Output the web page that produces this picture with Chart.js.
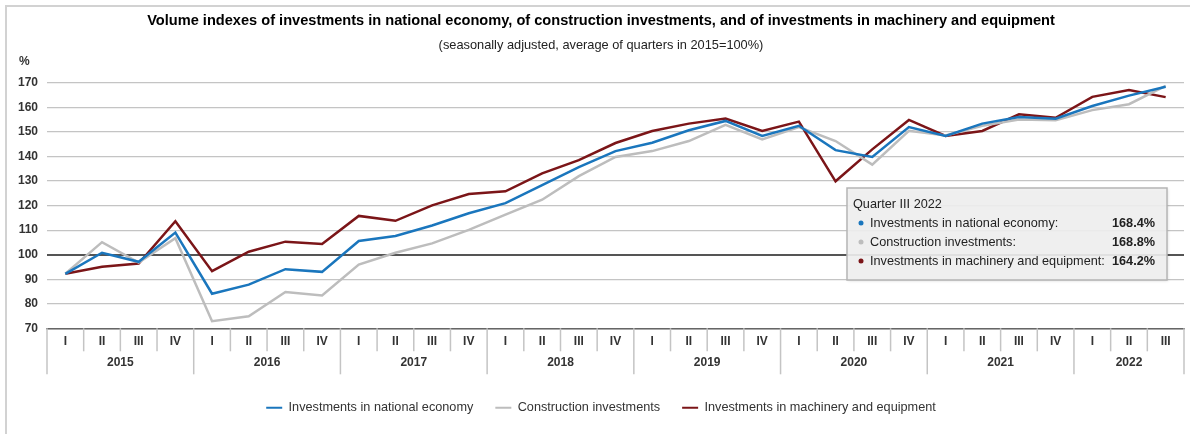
<!DOCTYPE html>
<html lang="en">
<head>
  <meta charset="UTF-8" />
  <title>Volume indexes of investments</title>
  <style>
    html, body { margin: 0; padding: 0; background: #fff; }
    #wrap { position: relative; width: 1190px; height: 434px; }
    #frame { position: absolute; left: 5px; top: 5px; right: 0; bottom: 0; border-left: 2px solid #d2d2d2; border-top: 2px solid #d2d2d2; pointer-events: none; }
    canvas { display: block; }
  </style>
</head>
<body>
<div id="wrap">
  <canvas id="grafico" width="1190" height="434"></canvas>
  <div id="frame"></div>
</div>

<script src="https://cdn.jsdelivr.net/npm/chart.js"></script>
<script>
  // Quarter labels and the year each quarter belongs to
  const quarters = ['I','II','III','IV','I','II','III','IV','I','II','III','IV','I','II','III','IV',
                    'I','II','III','IV','I','II','III','IV','I','II','III','IV','I','II','III'];
  const years = ['2015','2015','2015','2015','2016','2016','2016','2016','2017','2017','2017','2017',
                 '2018','2018','2018','2018','2019','2019','2019','2019','2020','2020','2020','2020',
                 '2021','2021','2021','2021','2022','2022','2022'];

  // Series (2015 average = 100%)
  const national = [92.2, 100.8, 97.1, 109.0, 84.1, 87.8, 94.1, 93.0, 105.6, 107.6, 111.9, 116.9,
                    121.0, 128.3, 135.7, 142.2, 145.6, 150.7, 154.5, 148.4, 152.5, 142.6, 139.8, 152.0,
                    148.4, 153.4, 156.1, 155.4, 160.6, 164.8, 168.4];
  const construction = [92.2, 105.1, 96.8, 106.7, 72.9, 74.9, 84.8, 83.4, 96.0, 100.8, 104.6, 110.1,
                        116.3, 122.4, 132.0, 139.8, 142.2, 146.3, 152.9, 147.0, 152.0, 146.3, 136.7, 150.5,
                        148.6, 152.5, 155.1, 154.8, 158.9, 161.3, 168.8];
  const machinery = [92.2, 95.1, 96.4, 113.6, 93.3, 101.2, 105.3, 104.4, 115.8, 113.8, 120.1, 124.7,
                     125.8, 133.1, 138.5, 145.5, 150.4, 153.4, 155.5, 150.4, 154.2, 129.9, 142.9, 154.9,
                     148.4, 150.4, 157.2, 155.8, 164.3, 167.1, 164.2];

  const seriesNames = ['Investments in national economy', 'Construction investments', 'Investments in machinery and equipment'];
  const seriesColors = ['#1a76bd', '#bdbdbd', '#7b1518'];
  const seriesData = [national, construction, machinery];

  const fonte = '"Liberation Sans", Arial, sans-serif';
  Chart.defaults.font.family = fonte;

  // Separators below the axis, year labels, "%" and the info box
  const extras = {
    id: 'extras',
    afterDraw(chart) {
      const { ctx, chartArea: a, scales: { x } } = chart;
      const w = x.getPixelForValue(1) - x.getPixelForValue(0);
      const x0 = x.getPixelForValue(0) - w / 2;
      ctx.save();

      ctx.font = 'bold 12px ' + fonte;
      ctx.fillStyle = '#333';
      ctx.textBaseline = 'middle';
      ctx.textAlign = 'left';
      ctx.fillText('%', 19, a.top - 21);

      // separators
      ctx.strokeStyle = '#c4c4c4';
      ctx.lineWidth = 1.5;
      for (let i = 0; i <= quarters.length; i++) {
        const px = x0 + i * w;
        const borda = i === 0 || i === quarters.length || years[i] !== years[i - 1];
        ctx.beginPath();
        ctx.moveTo(px, a.bottom);
        ctx.lineTo(px, a.bottom + (borda ? 46 : 23));
        ctx.stroke();
      }

      // year labels
      ctx.textAlign = 'center';
      let inicio = 0;
      for (let i = 1; i <= years.length; i++) {
        if (i === years.length || years[i] !== years[inicio]) {
          const cx = (x.getPixelForValue(inicio) + x.getPixelForValue(i - 1)) / 2;
          ctx.fillText(years[inicio], cx, a.bottom + 34);
          inicio = i;
        }
      }

      // info box for the last quarter
      const last = quarters.length - 1;
      const bx = 847, by = 188, bw = 320, bh = 92;
      ctx.shadowColor = 'rgba(0,0,0,0.15)';
      ctx.shadowBlur = 3;
      ctx.shadowOffsetX = 1;
      ctx.shadowOffsetY = 1;
      ctx.fillStyle = 'rgba(241,241,241,0.9)';
      ctx.fillRect(bx, by, bw, bh);
      ctx.shadowColor = 'transparent';
      ctx.strokeStyle = '#b5b5b5';
      ctx.lineWidth = 1.5;
      ctx.strokeRect(bx, by, bw, bh);

      ctx.textAlign = 'left';
      ctx.font = '12.7px ' + fonte;
      ctx.fillStyle = '#222';
      ctx.fillText('Quarter ' + quarters[last] + ' ' + years[last], bx + 6, by + 16);
      seriesNames.forEach((nome, k) => {
        const ry = by + 35 + k * 19;
        ctx.fillStyle = seriesColors[k];
        ctx.beginPath();
        ctx.arc(bx + 14, ry, 2.5, 0, Math.PI * 2);
        ctx.fill();
        ctx.fillStyle = '#222';
        ctx.font = '12.7px ' + fonte;
        ctx.textAlign = 'left';
        ctx.fillText(nome + ':', bx + 23, ry);
        ctx.font = 'bold 12.7px ' + fonte;
        ctx.textAlign = 'right';
        ctx.fillText(seriesData[k][last].toFixed(1) + '%', bx + 308, ry);
      });

      ctx.restore();
    }
  };

  const ctx = document.getElementById('grafico').getContext('2d');
  new Chart(ctx, {
    type: 'line',
    data: {
      labels: quarters,
      datasets: seriesNames.map((nome, k) => ({
        label: nome,
        data: seriesData[k],
        borderColor: seriesColors[k],
        backgroundColor: seriesColors[k],
        borderWidth: 2.5,
        pointRadius: 0,
        tension: 0
      }))
    },
    options: {
      responsive: false,
      animation: false,
      layout: { padding: { top: 12, left: 18, right: 6, bottom: 10 } },
      scales: {
        x: {
          offset: true,
          grid: { display: false, drawTicks: false },
          border: { display: true, color: '#666', width: 1.5 },
          ticks: { autoSkip: false, maxRotation: 0, padding: 6, color: '#333', font: { size: 12, weight: 'bold' } },
          afterFit(s) { s.height = 51; }
        },
        y: {
          min: 70,
          max: 170,
          ticks: { stepSize: 10, padding: 9, color: '#333', font: { size: 12, weight: 'bold' } },
          border: { display: false },
          grid: {
            drawTicks: false,
            color: c => c.tick.value === 100 ? '#555' : '#c4c4c4',
            lineWidth: c => c.tick.value === 100 ? 2 : 1.2
          },
          afterFit(s) { s.width = 29; }
        }
      },
      plugins: {
        title: {
          display: true,
          text: 'Volume indexes of investments in national economy, of construction investments, and of investments in machinery and equipment',
          color: '#000',
          font: { size: 14.6, weight: 'bold' },
          padding: { top: 0, bottom: 8 }
        },
        subtitle: {
          display: true,
          text: '(seasonally adjusted, average of quarters in 2015=100%)',
          color: '#222',
          font: { size: 12.8 },
          padding: { top: 0, bottom: 30 }
        },
        legend: {
          position: 'bottom',
          labels: {
            boxWidth: 16,
            boxHeight: 2,
            padding: 22,
            color: '#333',
            font: { size: 12.7 },
            generateLabels(chart) {
              return Chart.defaults.plugins.legend.labels.generateLabels(chart).map(l => ({ ...l, lineWidth: 0 }));
            }
          }
        },
        tooltip: { enabled: false }
      }
    },
    plugins: [extras]
  });
</script>
</body>
</html>
